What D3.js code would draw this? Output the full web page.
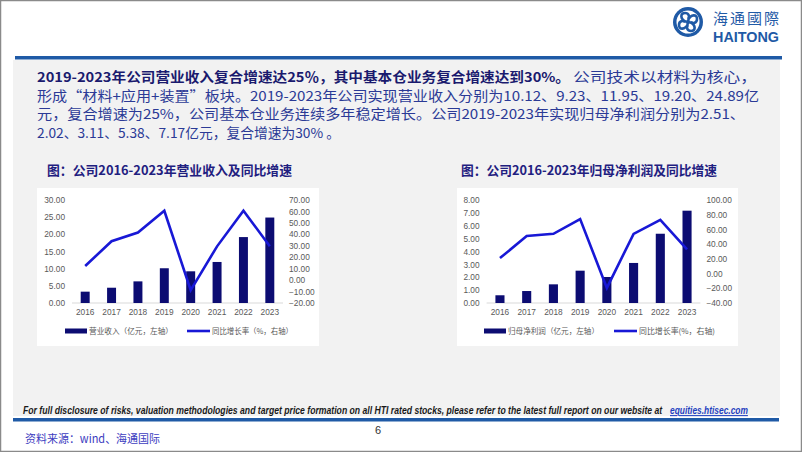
<!DOCTYPE html>
<html>
<head>
<meta charset="utf-8">
<script src="https://cdn.jsdelivr.net/npm/d3@7"></script>
<style>
  body { margin: 0; background: #fff; }
  svg { display: block; }
  .cjk { font-family: "Noto Sans CJK SC", "Noto Sans", sans-serif; }
  .num { font-family: "Liberation Sans", Arial, sans-serif; }
</style>
</head>
<body>
<div id="visualContainer"></div>
<script>
// ---- data ----
var years = ["2016", "2017", "2018", "2019", "2020", "2021", "2022", "2023"];

// chart 1: revenue (100m yuan, left axis) and yoy growth (%, right axis)
var revenue = [3.3, 4.45, 6.3, 10.12, 9.23, 11.95, 19.20, 24.89];
var revenueGrowth = [12.3, 34.0, 41.6, 60.6, -8.8, 29.5, 60.7, 29.6];
var revLeftTicks = [0, 5, 10, 15, 20, 25, 30];
var revRightTicks = [-20, -10, 0, 10, 20, 30, 40, 50, 60, 70];

// chart 2: net profit attributable to parent (left) and yoy growth (right)
var netProfit = [0.6, 0.93, 1.45, 2.51, 2.02, 3.11, 5.38, 7.17];
var profitGrowth = [21, 51, 54, 74, -19.5, 54, 73, 33];
var npLeftTicks = [0, 1, 2, 3, 4, 5, 6, 7, 8];
var npRightTicks = [-40, -20, 0, 20, 40, 60, 80, 100];

var barColor = "#0c0c72";
var lineColor = "#1818d6";
var titleColor = "#1f2080";

var svgCanvas = d3.select("#visualContainer")
  .append("svg")
  .attr("width", 802)
  .attr("height", 452);

// squeeze a text horizontally to a given width (scale, not textLength)
function fitWidth(sel, x, y, w) {
  var nat = sel.node().getComputedTextLength();
  sel.attr("x", 0).attr("y", 0)
    .attr("transform", "translate(" + x + "," + y + ") scale(" + (w / nat) + ",1)");
  return sel;
}

// page frame + panels
svgCanvas.append("rect").attr("x", 0.5).attr("y", 0.5).attr("width", 801).attr("height", 451)
  .attr("fill", "#fff").attr("stroke", "#8a8a8a").attr("stroke-width", 1.5);
svgCanvas.append("rect").attr("x", 13).attr("y", 60).attr("width", 767).attr("height", 356)
  .attr("fill", "#f2f2f2");
svgCanvas.append("rect").attr("x", 15).attr("y", 56).attr("width", 767).attr("height", 3.5)
  .attr("fill", "#1f5aa6");
svgCanvas.append("rect").attr("x", 13).attr("y", 418).attr("width", 766).attr("height", 3.5)
  .attr("fill", "#1f5aa6");

// logo
var logo = svgCanvas.append("g").attr("transform", "translate(688,22)");
logo.append("circle").attr("r", 15).attr("fill", "#1f5aa6");
logo.append("circle").attr("r", 11.5).attr("fill", "#fff");
[0, 90, 180, 270].forEach(function(a) {
  logo.append("path")
    .attr("d", "M0,-2 C3,-8 9,-8 9,-3 C9,1 5,2 3,0")
    .attr("fill", "none").attr("stroke", "#1f5aa6").attr("stroke-width", 2.6)
    .attr("transform", "rotate(" + a + ")");
});
logo.append("circle").attr("r", 2.2).attr("fill", "#1f5aa6");
svgCanvas.append("text").attr("class", "cjk").attr("x", 713).attr("y", 24)
  .attr("font-size", 15).attr("fill", "#1f5aa6").attr("textLength", 66)
  .text("海通國際");
svgCanvas.append("text").attr("x", 713).attr("y", 42)
  .attr("font-family", "Liberation Sans Narrow, Liberation Sans, sans-serif")
  .attr("font-weight", "bold").attr("font-size", 15).attr("fill", "#1f5aa6")
  .attr("textLength", 66).attr("lengthAdjust", "spacingAndGlyphs")
  .text("HAITONG");

// body text, one text per run
var bodyRuns = [
  { x: 37, y: 82, len: 533, bold: true, txt: "2019-2023年公司营业收入复合增速达25％，其中基本仓业务复合增速达到30%。" },
  { x: 573, y: 82, len: 184, bold: false, txt: "公司技术以材料为核心，" },
  { x: 37, y: 100.7, len: 722, bold: false, txt: "形成“材料+应用+装置”板块。2019-2023年公司实现营业收入分别为10.12、9.23、11.95、19.20、24.89亿" },
  { x: 37, y: 119.4, len: 708, bold: false, txt: "元，复合增速为25%，公司基本仓业务连续多年稳定增长。公司2019-2023年实现归母净利润分别为2.51、" },
  { x: 37, y: 138.1, len: 303, bold: false, txt: "2.02、3.11、5.38、7.17亿元，复合增速为30% 。" }
];
svgCanvas.selectAll("text.body")
  .data(bodyRuns)
  .enter()
    .append("text")
      .attr("class", "body cjk")
      .attr("x", function(d) { return d.x; })
      .attr("y", function(d) { return d.y; })
      .attr("font-size", 13.4)
      .attr("font-weight", function(d) { return d.bold ? "bold" : "normal"; })
      .attr("fill", function(d) { return d.bold ? "#1a1a6e" : "#2b3a96"; })
      .attr("textLength", function(d) { return d.len; })
      .attr("lengthAdjust", "spacingAndGlyphs")
      .text(function(d) { return d.txt; });

// one chart
function drawChart(cfg) {
  var g = svgCanvas.append("g");

  g.append("text").attr("class", "cjk")
    .attr("x", cfg.titleX).attr("y", 175)
    .attr("font-size", 13).attr("font-weight", "bold").attr("fill", titleColor)
    .attr("textLength", cfg.titleLen).attr("lengthAdjust", "spacingAndGlyphs")
    .text(cfg.title);

  g.append("rect").attr("x", cfg.box[0]).attr("y", 188)
    .attr("width", cfg.box[1] - cfg.box[0]).attr("height", 158).attr("fill", "#fff");

  var x = d3.scaleBand().domain(years).range(cfg.xRange)
    .paddingInner(0.66).paddingOuter(0.33);
  var yL = d3.scaleLinear().domain(cfg.leftDomain).range([303, 200]);
  var yR = d3.scaleLinear().domain(cfg.rightDomain).range([303, 200]);

  var axL = g.append("g").attr("transform", "translate(" + cfg.xRange[0] + ",0)")
    .call(d3.axisLeft(yL).tickValues(cfg.leftTicks).tickSize(0).tickPadding(7).tickFormat(d3.format(".2f")));
  var axR = g.append("g").attr("transform", "translate(" + cfg.xRange[1] + ",0)")
    .call(d3.axisRight(yR).tickValues(cfg.rightTicks).tickSize(0).tickPadding(6).tickFormat(d3.format(".2f")));
  var axB = g.append("g").attr("transform", "translate(0,303)")
    .call(d3.axisBottom(x).tickSize(0).tickPadding(6));
  [axL, axR, axB].forEach(function(a) {
    a.select(".domain").remove();
    a.selectAll("text").attr("class", "num").attr("font-size", 8.3).attr("fill", "#595959");
  });

  g.append("line").attr("x1", cfg.xRange[0]).attr("x2", cfg.xRange[1])
    .attr("y1", 303).attr("y2", 303).attr("stroke", "#d9d9d9").attr("stroke-width", 1);

  g.selectAll("rect.bar")
    .data(cfg.bars)
    .enter()
      .append("rect")
        .attr("class", "bar")
        .attr("x", function(d, i) { return x(years[i]); })
        .attr("width", x.bandwidth())
        .attr("y", function(d) { return yL(d); })
        .attr("height", function(d) { return 303 - yL(d); })
        .attr("fill", barColor);

  var line = d3.line()
    .x(function(d, i) { return x(years[i]) + x.bandwidth() / 2; })
    .y(function(d) { return yR(d); });
  g.append("path").datum(cfg.growth)
    .attr("d", line).attr("fill", "none")
    .attr("stroke", lineColor).attr("stroke-width", 2.6).attr("stroke-linejoin", "miter");

  // legend
  g.append("rect").attr("x", cfg.leg[0]).attr("y", 328.5).attr("width", 22).attr("height", 5).attr("fill", barColor);
  g.append("text").attr("class", "cjk").attr("x", cfg.leg[0] + 24).attr("y", 334)
    .attr("font-size", 7.5).attr("fill", "#595959")
    .attr("textLength", cfg.legLen[0]).attr("lengthAdjust", "spacingAndGlyphs")
    .text(cfg.legText[0]);
  g.append("line").attr("x1", cfg.leg[1]).attr("x2", cfg.leg[1] + 23).attr("y1", 331).attr("y2", 331)
    .attr("stroke", lineColor).attr("stroke-width", 2.6);
  g.append("text").attr("class", "cjk").attr("x", cfg.leg[1] + 25).attr("y", 334)
    .attr("font-size", 7.5).attr("fill", "#595959")
    .attr("textLength", cfg.legLen[1]).attr("lengthAdjust", "spacingAndGlyphs")
    .text(cfg.legText[1]);
}

drawChart({
  title: "图：公司2016-2023年营业收入及同比增速", titleX: 47, titleLen: 245,
  box: [37, 319], xRange: [72, 283],
  leftDomain: [0, 30], rightDomain: [-20, 70],
  leftTicks: revLeftTicks, rightTicks: revRightTicks,
  bars: revenue, growth: revenueGrowth,
  leg: [65, 187], legLen: [84, 81],
  legText: ["营业收入（亿元，左轴）", "同比增长率（%，右轴）"]
});

drawChart({
  title: "图：公司2016-2023年归母净利润及同比增速", titleX: 461, titleLen: 256,
  box: [457, 738], xRange: [486.6, 700.4],
  leftDomain: [0, 8], rightDomain: [-40, 100],
  leftTicks: npLeftTicks, rightTicks: npRightTicks,
  bars: netProfit, growth: profitGrowth,
  leg: [484, 614], legLen: [91, 76],
  legText: ["归母净利润（亿元，左轴）", "同比增长率(%，右轴)"]
});

// footer
var disc = svgCanvas.append("text")
  .attr("font-family", "Liberation Sans Narrow, Liberation Sans, sans-serif")
  .attr("font-weight", "bold").attr("font-style", "italic").attr("font-size", 10.5)
  .attr("fill", "#1a1a1a")
  .text("For full disclosure of risks, valuation methodologies and target price formation on all HTI rated stocks, please refer to the latest full report on our website at");
fitWidth(disc, 23, 414, 640);
var link = svgCanvas.append("text")
  .attr("font-family", "Liberation Sans Narrow, Liberation Sans, sans-serif")
  .attr("font-weight", "bold").attr("font-style", "italic").attr("font-size", 10.5)
  .attr("fill", "#1f3fbf").attr("text-decoration", "underline")
  .text("equities.htisec.com");
fitWidth(link, 670, 414, 78);

svgCanvas.append("text").attr("class", "num").attr("x", 378).attr("y", 434)
  .attr("text-anchor", "middle").attr("font-size", 11).attr("fill", "#333").text("6");
svgCanvas.append("text").attr("class", "cjk").attr("x", 25).attr("y", 443)
  .attr("font-size", 11.5).attr("fill", "#3d3dbf").attr("textLength", 135)
  .attr("lengthAdjust", "spacingAndGlyphs")
  .text("资料来源：wind、海通国际");
</script>
</body>
</html>
